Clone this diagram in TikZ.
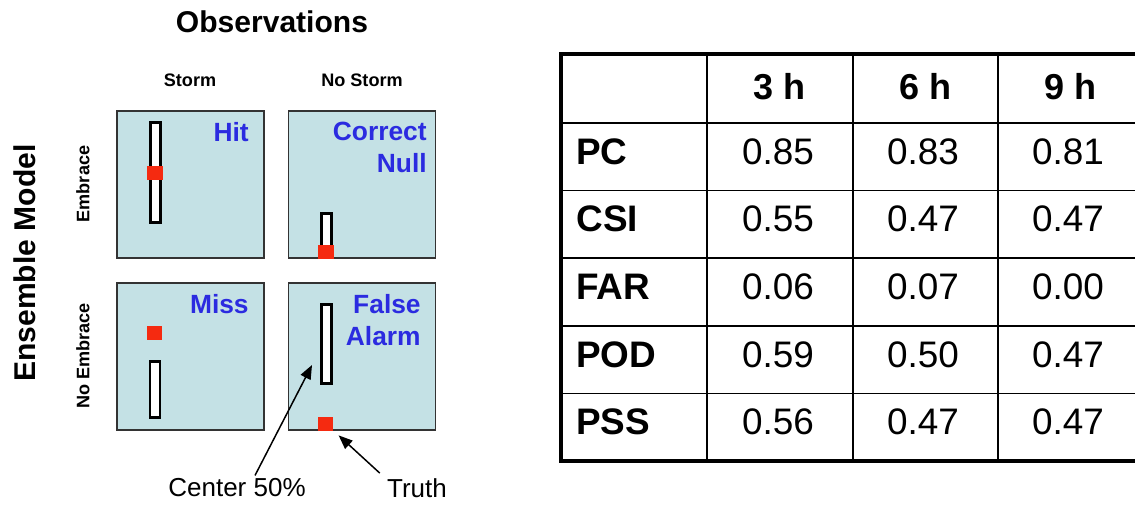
\documentclass[tikz,border=0pt]{standalone}
\usepackage{fontspec}
\setmainfont{Liberation Sans}
\usetikzlibrary{arrows.meta,positioning,calc}
\definecolor{cellBlue}{HTML}{C4E1E5}
\definecolor{truthRed}{HTML}{F52A10}
\definecolor{labelBlue}{HTML}{2B2BE0}

\begin{document}
\begin{tikzpicture}[x=0.2mm, y=-0.2mm,
  cell/.style={draw=black!80, line width=1.1pt, fill=cellBlue, minimum width=29.4mm, minimum height=29.4mm, inner sep=0pt},
  spread/.style={draw=black, line width=1.7pt, fill=white, minimum width=2mm, inner sep=0pt},
  truth/.style={fill=truthRed, minimum width=3.1mm, minimum height=2.8mm, inner sep=0pt},
  verdict/.style={font=\fontsize{15}{18.2}\selectfont\bfseries, text=labelBlue, align=right, anchor=north east, inner sep=0pt},
  axis/.style={font=\fontsize{10.3}{12}\selectfont\bfseries, inner sep=0pt},
  big/.style={font=\fontsize{17.1}{20}\selectfont\bfseries, inner sep=0pt},
  note/.style={font=\fontsize{14.8}{17}\selectfont, inner sep=0pt},
  pointer/.style={-{Triangle[length=2.8mm, width=2.2mm]}, line width=0.85pt},
  rule/.style={line width=1pt},
  colhead/.style={font=\fontsize{20.5}{24}\selectfont\bfseries, inner sep=0pt},
  rowhead/.style={font=\fontsize{21}{24}\selectfont\bfseries, anchor=west, inner sep=0pt},
  cellnum/.style={font=\fontsize{21}{24}\selectfont, inner sep=0pt}]
\useasboundingbox (0,0) rectangle (1135,514);
\fill[white] (0,0) rectangle (1135,514);

% contingency panel
\node[big] (obs) at (272,22) {Observations};
\node[axis] (storm) at (190,80) {Storm};
\node[axis] (nostorm) at (362,80) {No Storm};
\node[big, rotate=90] (model) at (25,263) {Ensemble Model};
\node[axis, rotate=90] (emb) at (83,184) {Embrace};
\node[axis, rotate=90] (noemb) at (83,356) {No Embrace};

\node[cell] (hit)  at (190.5,184.5) {};
\node[cell] (null) at (362,184.5) {};
\node[cell] (miss) at (190.5,356.5) {};
\node[cell] (fa)   at (362,356.5) {};

\node[verdict] (hitL)  at (249,122) {Hit};
\node[verdict] (nullL) at (427,122) {Correct\\Null};
\node[verdict] (missL) at (249,294) {Miss};
\node[verdict] (faL)   at (421,294) {False\\Alarm};

% ensemble spread bars and observed truth
\node[spread, minimum height=20mm]   (hitBar)  at (155.5,172.5) {};
\node[spread, minimum height=8.8mm]  (nullBar) at (326.5,235.5) {};
\node[spread, minimum height=11.2mm] (missBar) at (155,389.5) {};
\node[spread, minimum height=15.8mm] (faBar)   at (326.5,344) {};
\node[truth] (hitTruth)  at (155,173) {};
\node[truth] (nullTruth) at (326,252) {};
\node[truth] (missTruth) at (154.5,333) {};
\node[truth] (faTruth)   at (325.5,424) {};

\node[note] (c50) at (237,488) {Center 50\%};
\node[note] (tru) at (417,488) {Truth};
\coordinate (c50tip) at (312,365);
\draw[pointer] ($(c50.north)+(18,-3)$) -- (c50tip);
\draw[pointer] ($(tru.north west)+(-7,-5)$) -- ($(faTruth.south east)+(5,4)$);

% score table
\foreach \x in {707,853,998} \draw[rule] (\x,54) -- (\x,461);
\foreach \y in {123,190.6,258.2,325.8,393.4} \draw[rule] (561,\y) -- (1143,\y);
\draw[line width=2pt] (561,54) rectangle (1143,461);

\foreach \t/\x [count=\i] in {3 h/780,6 h/925.5,9 h/1070.5}
  \node[colhead] (hd\i) at (\x,87) {\t};
\foreach \lab/\a/\b/\c [count=\r] in {PC/0.85/0.83/0.81, CSI/0.55/0.47/0.47,
    FAR/0.06/0.07/0.00, POD/0.59/0.50/0.47, PSS/0.56/0.47/0.47}{
  \pgfmathsetmacro\yy{151.5+67.6*(\r-1)}
  \node[rowhead] (lab\r) at (576,\yy) {\lab};
  \node[cellnum] (v\r a) at (778,\yy) {\a};
  \node[cellnum] (v\r b) at (923,\yy) {\b};
  \node[cellnum] (v\r c) at (1068,\yy) {\c};
}
\end{tikzpicture}
\end{document}
